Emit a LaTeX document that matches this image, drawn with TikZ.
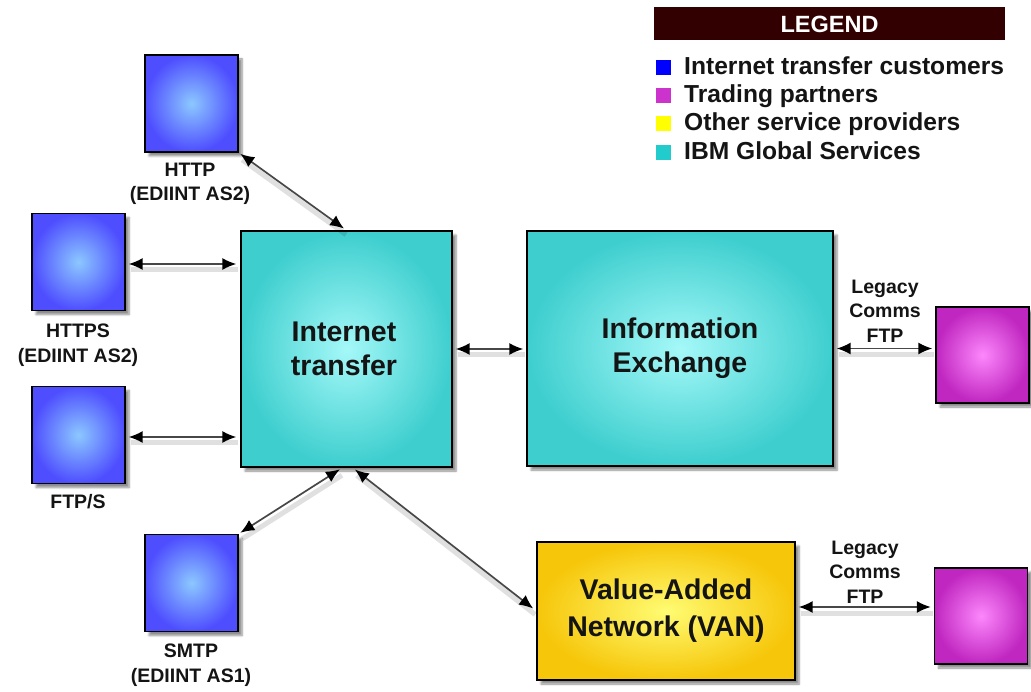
\documentclass[tikz,border=0pt]{standalone}
\usepackage{fontspec}
\setmainfont{Liberation Sans}
\usetikzlibrary{arrows.meta,shadows.blur}

% colour ramps for the shaded boxes (edge -> centre)
\definecolor{bluEdge}{RGB}{78,78,255}
\definecolor{bluCtr}{RGB}{140,200,255}
\definecolor{cyaEdge}{RGB}{62,206,206}
\definecolor{cyaCtr}{RGB}{165,248,248}
\definecolor{magEdge}{RGB}{192,38,192}
\definecolor{magCtr}{RGB}{252,135,252}
\definecolor{yelEdge}{RGB}{246,198,10}
\definecolor{yelCtr}{RGB}{255,252,115}
\definecolor{legbar}{RGB}{50,0,0}
\definecolor{legblue}{RGB}{0,0,255}
\definecolor{legmag}{RGB}{204,51,204}
\definecolor{legyel}{RGB}{255,255,0}
\definecolor{legcya}{RGB}{34,204,204}
\definecolor{ink}{RGB}{20,20,20}

\tikzset{
  shadedbox/.style={rectangle, draw=black, line width=1.3pt, inner sep=0pt,
    blur shadow={shadow xshift=4pt, shadow yshift=-4pt, shadow blur steps=6, shadow opacity=45}},
  custbox/.style={shadedbox, minimum width=93pt, minimum height=97pt,
    inner color=bluCtr, outer color=bluEdge},
  partbox/.style={shadedbox, minimum width=93pt, minimum height=96pt,
    inner color=magCtr, outer color=magEdge},
  ibmbox/.style={shadedbox, inner color=cyaCtr, outer color=cyaEdge, text=ink,
    align=center, font=\fontsize{28.5}{34}\selectfont\bfseries},
  vanbox/.style={shadedbox, inner color=yelCtr, outer color=yelEdge, text=ink,
    align=center, font=\fontsize{28.5}{37}\selectfont\bfseries},
  caption/.style={align=center, text=ink, inner sep=0pt,
    font=\fontsize{19.5}{24.5}\selectfont\bfseries},
  legtext/.style={anchor=base west, inner sep=0pt, text=ink,
    font=\fontsize{24.6}{28}\selectfont\bfseries},
  legsq/.style={rectangle, minimum size=15pt, inner sep=0pt},
  conn/.style={draw=black!72, line width=1.7pt,
    arrows={Latex[length=14pt,width=12pt,color=black]-Latex[length=14pt,width=12pt,color=black]},
    preaction={draw=black, draw opacity=0.12, line width=5pt, arrows=-,
      transform canvas={xshift=2pt,yshift=-6pt}}},
}

\begin{document}
\begin{tikzpicture}[x=1pt,y=-1pt]
\useasboundingbox (0,0) rectangle (1031,692);

% ---- customer end points (left column)
\node[custbox] (http)  at (191.5,103.5) {};
\node[custbox] (https) at (78.5,262)    {};
\node[custbox] (ftps)  at (78.5,435)    {};
\node[custbox] (smtp)  at (191.5,583)   {};

\node[caption] (httpL)  at (190,184) {HTTP\\(EDIINT AS2)};
\node[caption] (httpsL) at (78,345)  {HTTPS\\(EDIINT AS2)};
\node[caption] (ftpsL)  at (78,502)  {FTP/S};
\node[caption] (smtpL)  at (191,665) {SMTP\\(EDIINT AS1)};

% ---- central services
\node[ibmbox, minimum width=211pt, minimum height=236pt] (it) at (346.5,349)
  {Internet\hspace*{5pt}\\transfer\hspace*{5pt}};
\node[ibmbox, minimum width=306pt, minimum height=235pt] (ie) at (680,348.5)
  {Information\\Exchange};
\node[vanbox, minimum width=258pt, minimum height=138pt] (van) at (666,611)
  {Value-Added\\Network (VAN)};

% ---- trading partners
\node[partbox] (tp1) at (982.5,355) {};
\node[partbox] (tp2) at (981,616)   {};

\node[caption] (tp1L) at (885,311) {Legacy\\Comms\\FTP};
\node[caption] (tp2L) at (865,572) {Legacy\\Comms\\FTP};

% ---- connectors
\draw[conn, shorten <=2pt, shorten >=3pt] (http.south east) -- (it.north);
\draw[conn, shorten <=3pt, shorten >=4pt] ([yshift=-2pt]https.east) -- ([yshift=-2pt]https.east -| it.west);
\draw[conn, shorten <=3pt, shorten >=4pt] ([yshift=-2pt]ftps.east) -- ([yshift=-2pt]ftps.east -| it.west);
\draw[conn, shorten <=2pt, shorten >=3pt] (smtp.north east) -- ([xshift=-4pt]it.south);
\draw[conn, shorten <=3pt, shorten >=4pt] ([xshift=6pt]it.south) -- (van.west);
\draw[conn, shorten <=3pt, shorten >=3pt] (it.east) -- (it.east -| ie.west);
\draw[conn, shorten <=3pt, shorten >=3pt] (ie.east) -- (ie.east -| tp1.west);
\draw[conn, shorten <=3pt, shorten >=3pt] ([yshift=4pt]van.east) -- ([yshift=4pt]van.east -| tp2.west);

% ---- legend
\node[fill=legbar, minimum width=351pt, minimum height=33pt, inner sep=0pt,
  text=white, font=\fontsize{23.5}{24}\selectfont\bfseries] (legend) at (829.5,24) {LEGEND};
\node[legsq, fill=legblue] (sq1) at (663.5,67.5)  {};
\node[legsq, fill=legmag]  (sq2) at (663.5,95.5)  {};
\node[legsq, fill=legyel]  (sq3) at (663.5,123.5) {};
\node[legsq, fill=legcya]  (sq4) at (663.5,152.5) {};
\node[legtext] (lg1) at (684,75)  {Internet transfer customers};
\node[legtext] (lg2) at (684,103) {Trading partners};
\node[legtext] (lg3) at (684,131) {Other service providers};
\node[legtext] (lg4) at (684,160) {IBM Global Services};
\end{tikzpicture}
\end{document}
